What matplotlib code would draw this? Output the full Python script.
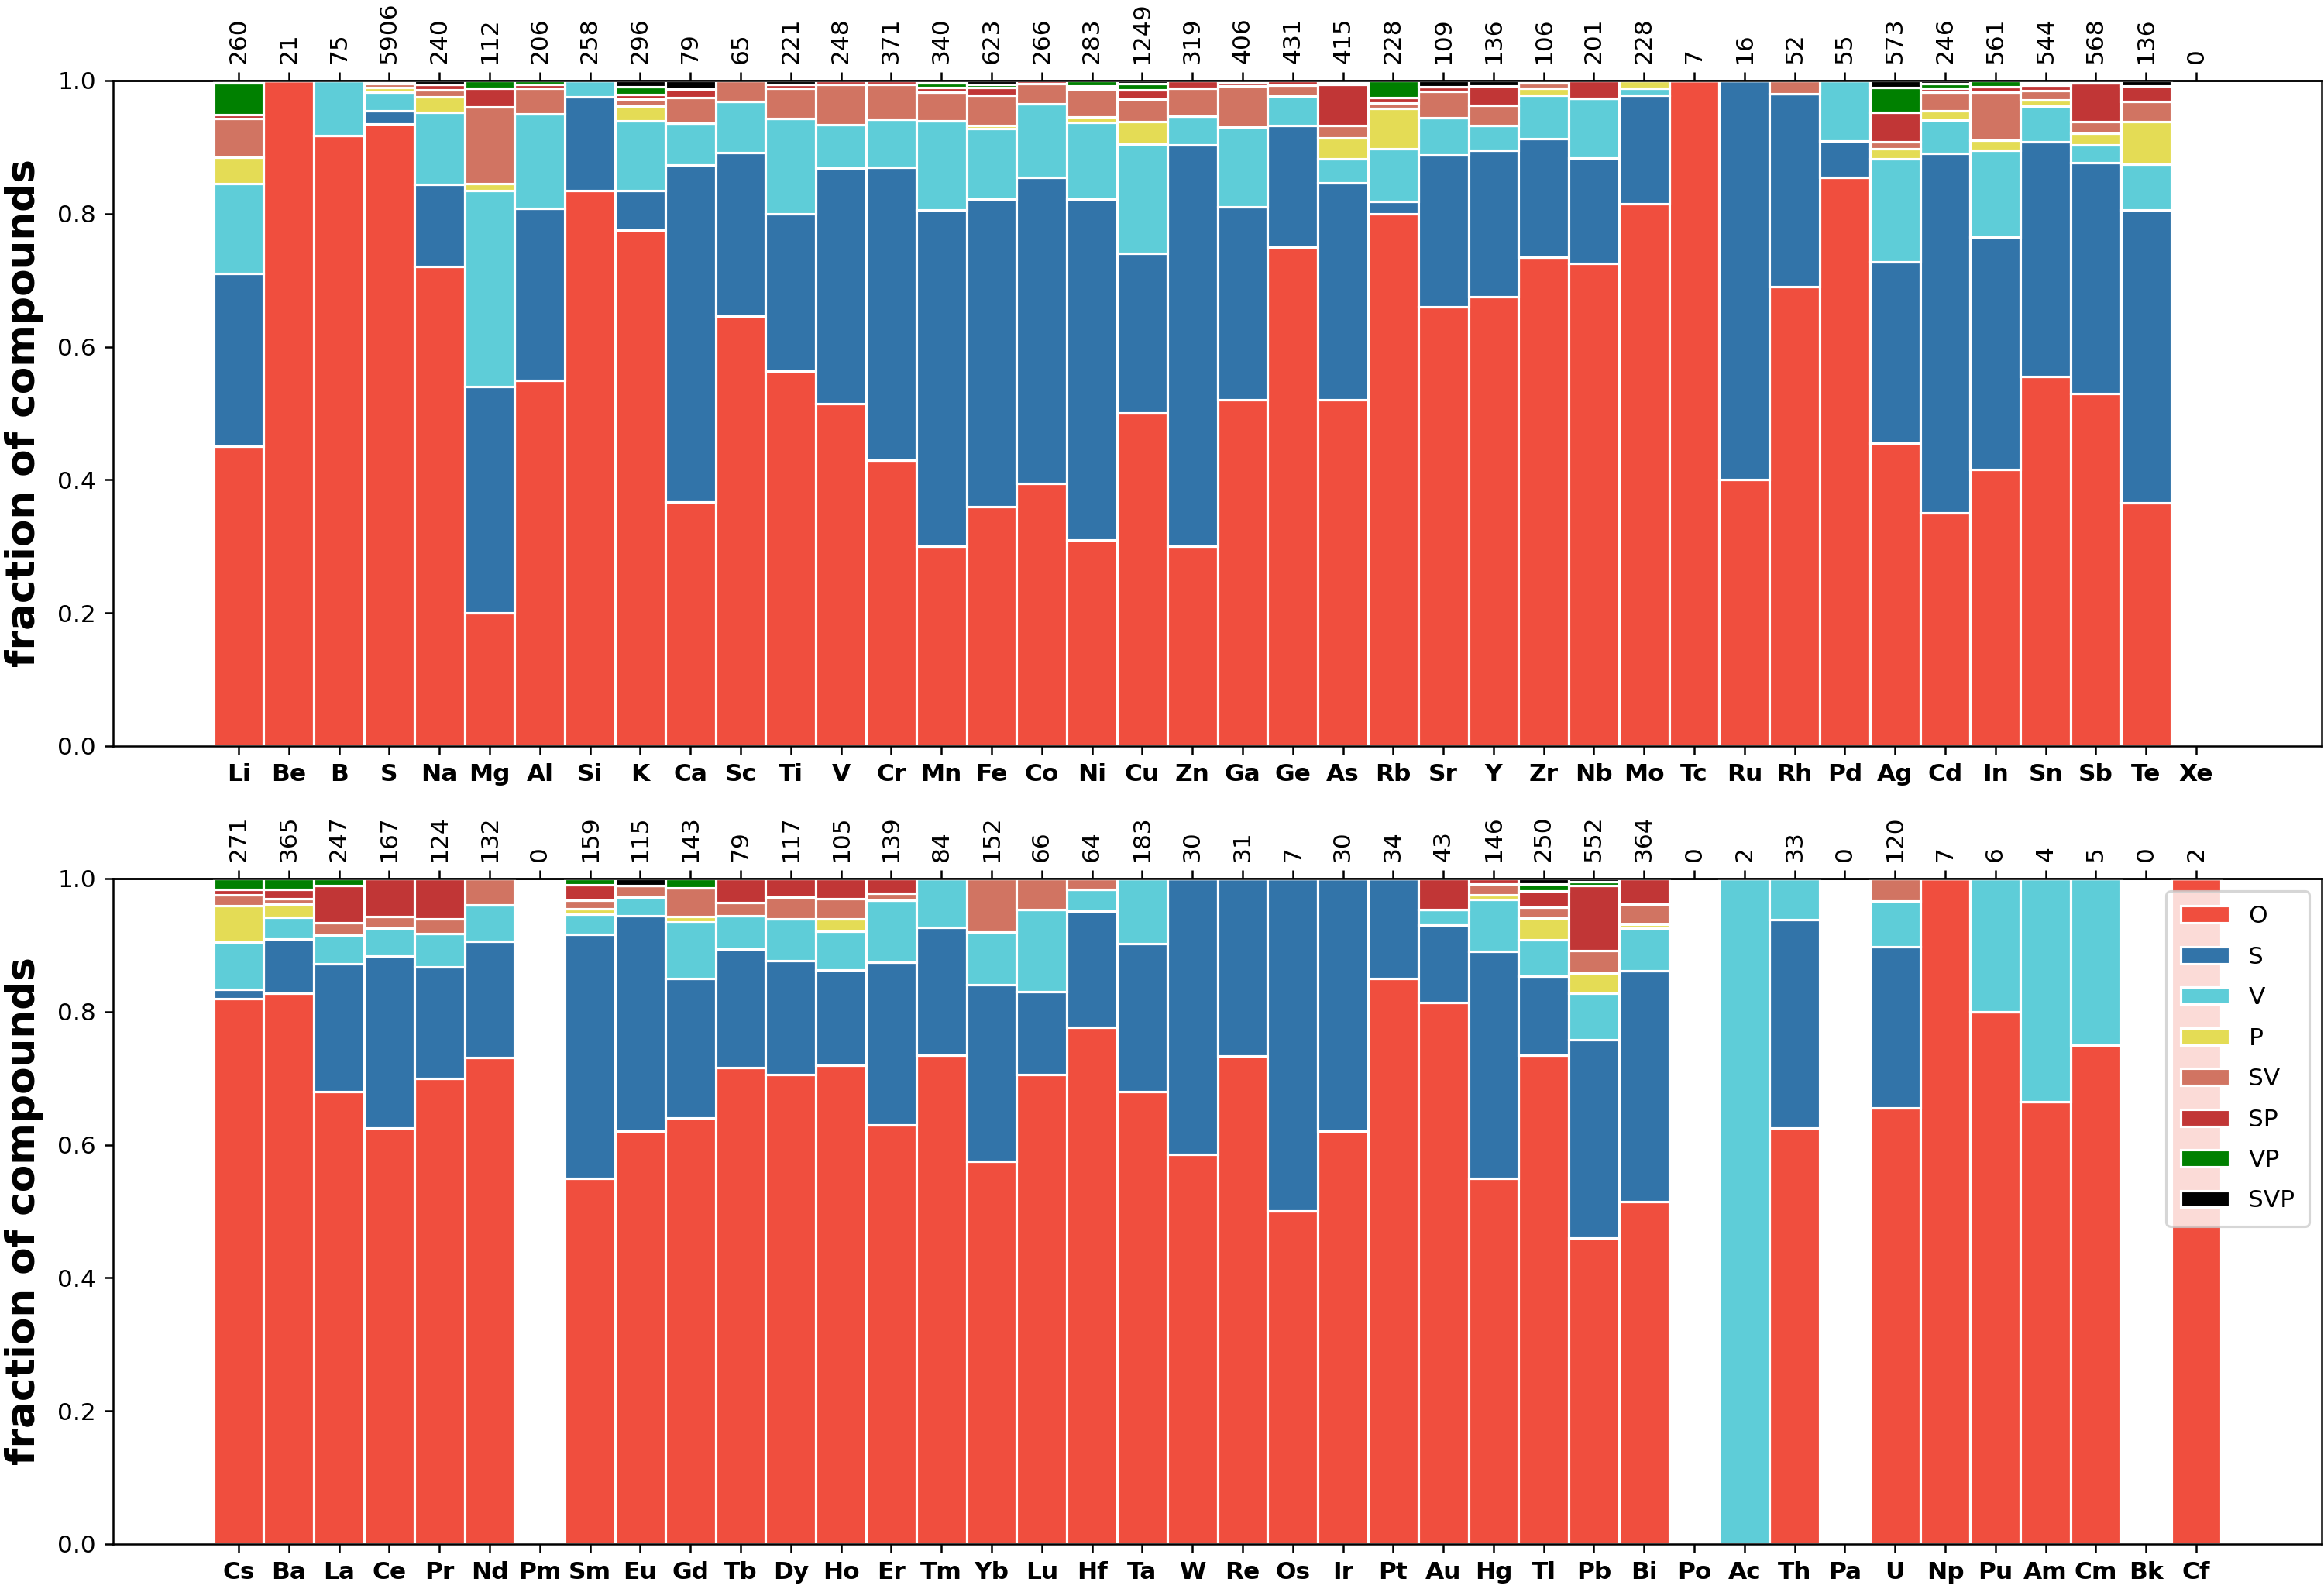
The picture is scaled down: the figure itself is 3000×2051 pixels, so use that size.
import numpy as np
import matplotlib
matplotlib.use("Agg")
import matplotlib.pyplot as plt

# categories of the stacked bars (bottom -> top)
cats = ["O", "S", "V", "P", "SV", "SP", "VP", "SVP"]
cat_colors = ["#f04e3e", "#3274a9", "#5ecdd8", "#e4dc55", "#d17462", "#c13636", "#008000", "#000000"]

# ---- upper panel ----
top_elems = ["Li", "Be", "B", "S", "Na", "Mg", "Al", "Si", "K", "Ca", "Sc", "Ti", "V", "Cr", "Mn", "Fe",
             "Co", "Ni", "Cu", "Zn", "Ga", "Ge", "As", "Rb", "Sr", "Y", "Zr", "Nb", "Mo", "Tc", "Ru", "Rh",
             "Pd", "Ag", "Cd", "In", "Sn", "Sb", "Te", "Xe"]
top_counts = [260, 21, 75, 5906, 240, 112, 206, 258, 296, 79, 65, 221, 248, 371, 340, 623, 266, 283, 1249, 319,
              406, 431, 415, 228, 109, 136, 106, 201, 228, 7, 16, 52, 55, 573, 246, 561, 544, 568, 136, 0]
top_O = [.451, 1.0, .917, .935, .72, .20, .55, .835, .775, .367, .646, .563, .515, .43, .30, .36, .395, .31, .50, .30,
         .52, .75, .52, .80, .66, .675, .735, .725, .815, 1.0, .40, .69, .854, .455, .35, .415, .555, .53, .365, 0]
top_S = [.259, 0, 0, .02, .124, .34, .258, .14, .06, .506, .246, .237, .353, .44, .505, .462, .46, .512, .24, .603,
         .29, .182, .326, .018, .228, .22, .178, .158, .163, 0, .60, .29, .055, .273, .541, .35, .353, .347, .441, 0]
top_V = [.135, 0, .083, .027, .108, .295, .142, .025, .105, .063, .077, .143, .066, .072, .135, .106, .11, .115, .165, .043,
         .12, .045, .036, .08, .056, .038, .065, .09, .01, 0, 0, 0, .091, .154, .05, .13, .053, .026, .068, 0]
top_P = [.04, 0, 0, .008, .024, .01, 0, 0, .022, 0, 0, 0, 0, 0, 0, .004, 0, .008, .033, 0,
         0, 0, .032, .06, 0, 0, .01, 0, .012, 0, 0, 0, 0, .016, .014, .015, .01, .018, .064, 0]
top_SV = [.058, 0, 0, .005, .01, .115, .038, 0, .01, .038, .031, .045, .06, .052, .042, .046, .03, .042, .034, .042,
          .062, .016, .018, .008, .04, .03, .008, 0, 0, 0, 0, .02, 0, .01, .027, .073, .014, .017, .03, 0]
top_SP = [.006, 0, 0, .003, .008, .028, .006, 0, .007, .013, 0, .006, .006, .006, .008, .011, .005, .005, .014, .012,
          .004, .007, .062, .008, .007, .029, .004, .027, 0, 0, 0, 0, 0, .044, .006, .008, .008, .058, .024, 0]
top_VP = [.047, 0, 0, .002, 0, .012, .006, 0, .012, 0, 0, 0, 0, 0, .006, .005, 0, .008, .009, 0,
          0, 0, .003, .026, 0, 0, 0, 0, 0, 0, 0, 0, 0, .038, .007, .009, .004, 0, 0, 0]
top_SVP = [.004, 0, 0, 0, .006, 0, 0, 0, .009, .013, 0, .006, 0, 0, .004, .006, 0, 0, .005, 0,
           .004, 0, .003, 0, .009, .008, 0, 0, 0, 0, 0, 0, 0, .01, .005, 0, .003, .004, .008, 0]

# ---- lower panel ----
bot_elems = ["Cs", "Ba", "La", "Ce", "Pr", "Nd", "Pm", "Sm", "Eu", "Gd", "Tb", "Dy", "Ho", "Er", "Tm", "Yb",
             "Lu", "Hf", "Ta", "W", "Re", "Os", "Ir", "Pt", "Au", "Hg", "Tl", "Pb", "Bi", "Po", "Ac", "Th",
             "Pa", "U", "Np", "Pu", "Am", "Cm", "Bk", "Cf"]
bot_counts = [271, 365, 247, 167, 124, 132, 0, 159, 115, 143, 79, 117, 105, 139, 84, 152, 66, 64, 183, 30,
              31, 7, 30, 34, 43, 146, 250, 552, 364, 0, 2, 33, 0, 120, 7, 6, 4, 5, 0, 2]
bot_O = [.82, .828, .68, .625, .70, .731, 0, .55, .62, .64, .716, .705, .72, .63, .734, .575, .706, .777, .68, .585,
         .733, .5, .62, .85, .814, .55, .735, .46, .515, 0, 0, .625, 0, .655, 1.0, .8, .665, .75, 0, 1.0]
bot_S = [.014, .081, .192, .258, .167, .175, 0, .366, .324, .21, .178, .172, .143, .244, .193, .265, .124, .174, .222, .415,
         .267, .5, .38, .15, .116, .34, .118, .298, .347, 0, 0, .313, 0, .243, 0, 0, 0, 0, 0, 0]
bot_V = [.07, .033, .043, .042, .05, .054, 0, .031, .028, .085, .05, .062, .058, .093, .073, .08, .123, .033, .098, 0,
         0, 0, 0, 0, .023, .078, .055, .07, .064, 0, 1.0, .062, 0, .068, 0, .2, .335, .25, 0, 0]
bot_P = [.055, .019, 0, 0, 0, 0, 0, .008, 0, .008, 0, 0, .019, 0, 0, 0, 0, 0, 0, 0,
         0, 0, 0, 0, 0, .008, .033, .03, .005, 0, 0, 0, 0, 0, 0, 0, 0, 0, 0, 0]
bot_SV = [.016, .009, .019, .018, .022, .04, 0, .012, .017, .043, .02, .033, .03, .011, 0, .08, .047, .016, 0, 0,
          0, 0, 0, 0, 0, .016, .016, .034, .03, 0, 0, 0, 0, .034, 0, 0, 0, 0, 0, 0]
bot_SP = [.009, .014, .056, .057, .061, 0, 0, .024, 0, 0, .036, .028, .03, .022, 0, 0, 0, 0, 0, 0,
          0, 0, 0, 0, .047, .008, .024, .098, .039, 0, 0, 0, 0, 0, 0, 0, 0, 0, 0, 0]
bot_VP = [.016, .016, .01, 0, 0, 0, 0, .009, 0, .014, 0, 0, 0, 0, 0, 0, 0, 0, 0, 0,
          0, 0, 0, 0, 0, 0, .011, .005, 0, 0, 0, 0, 0, 0, 0, 0, 0, 0, 0, 0]
bot_SVP = [0, 0, 0, 0, 0, 0, 0, 0, .011, 0, 0, 0, 0, 0, 0, 0, 0, 0, 0, 0,
           0, 0, 0, 0, 0, 0, .008, .005, 0, 0, 0, 0, 0, 0, 0, 0, 0, 0, 0, 0]

top_data = [top_O, top_S, top_V, top_P, top_SV, top_SP, top_VP, top_SVP]
bot_data = [bot_O, bot_S, bot_V, bot_P, bot_SV, bot_SP, bot_VP, bot_SVP]

DPI = 225
fig = plt.figure(figsize=(3000 / DPI, 2051 / DPI), dpi=DPI)
ax_top = fig.add_axes([0.0487, 0.5305, 0.9503, 0.4188])
ax_bot = fig.add_axes([0.0487, 0.0283, 0.9503, 0.4188])


def stacked(ax, elems, counts, data, legend=False):
    x = np.arange(len(elems))
    bottom = np.zeros(len(elems))
    for name, col, vals in zip(cats, cat_colors, data):
        vals = np.array(vals)
        ax.bar(x, vals, bottom=bottom, width=1.0, color=col, edgecolor="white",
               linewidth=1.0, label=name)
        bottom += vals
    ax.set_xlim(-2.5, len(elems) + 1.5)
    ax.set_ylim(0, 1.0)
    ax.set_xticks(x)
    ax.set_xticklabels(elems, fontweight="bold")
    ax.set_ylabel("fraction of compounds", fontsize=16.5, fontweight="bold", labelpad=6)
    # number of compounds per element on top
    sec = ax.secondary_xaxis("top")
    sec.set_xticks(x)
    sec.set_xticklabels([str(c) for c in counts], rotation=90)
    if legend:
        ax.legend(loc="upper right", labelspacing=0.75, borderpad=0.6)


stacked(ax_top, top_elems, top_counts, top_data)
stacked(ax_bot, bot_elems, bot_counts, bot_data, legend=True)

fig.savefig("out.png", dpi=DPI)
